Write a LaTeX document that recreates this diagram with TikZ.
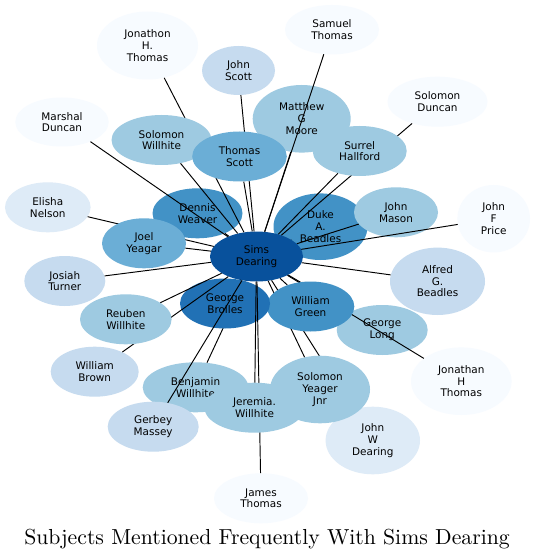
\documentclass[tikz,border=0pt]{standalone}
\usepackage{fontspec}
\usetikzlibrary{shapes.geometric}
\newfontfamily\nodefont{DejaVu Sans}
\font\titlefnt="[lmroman10-regular]" at 21.8pt
\definecolor{bA}{HTML}{F7FBFF}
\definecolor{bB}{HTML}{DEEBF7}
\definecolor{bC}{HTML}{C6DBEF}
\definecolor{bD}{HTML}{9ECAE1}
\definecolor{bE}{HTML}{6BAED6}
\definecolor{bF}{HTML}{4292C6}
\definecolor{bG}{HTML}{2171B5}
\definecolor{bH}{HTML}{08519C}
\pgfdeclarelayer{bg}
\pgfdeclarelayer{back}
\pgfsetlayers{bg,back,main}
\tikzset{
  nd/.style={ellipse, draw=none, inner sep=0pt, align=center,
    font=\nodefont\fontsize{10.5}{11.8}\selectfont, text=black},
  sz/.style 2 args={minimum width=#1bp, minimum height=#2bp},
  ed/.style={draw=black, line width=0.95bp},
}
\begin{document}
\begin{tikzpicture}[x=1bp,y=-1bp]
\begin{pgfonlayer}{bg}
\path[fill=white,use as bounding box] (0,0) rectangle (535,559);
\end{pgfonlayer}

\node[nd, fill=bH, sz={93}{50}] (sims) at (256.5,256.5) {Sims\\Dearing};
\begin{pgfonlayer}{back}
\node[nd, fill=bF, sz={94}{66.6}] (duke) at (320.5,226.7) {Duke\\A.\\Beadles};
\draw[ed] (sims) -- (duke);
\end{pgfonlayer}

\node[nd, fill=bF, sz={90}{50}] (dennis) at (197.5,213.3) {Dennis\\Weaver};
\draw[ed] (sims) -- (dennis);
\node[nd, fill=bA, sz={93.4}{49}] (marshal) at (62,122) {Marshal\\Duncan};
\draw[ed] (sims) -- (marshal);
\node[nd, fill=bB, sz={85.6}{50}] (elisha) at (47.8,207.3) {Elisha\\Nelson};
\draw[ed] (sims) -- (elisha);
\node[nd, fill=bE, sz={84}{50}] (joel) at (144,243.3) {Joel\\Yeagar};
\draw[ed] (sims) -- (joel);
\node[nd, fill=bA, sz={101}{68}] (jonathon) at (147.5,45.5) {Jonathon\\H.\\Thomas};
\draw[ed] (sims) -- (jonathon);
\node[nd, fill=bD, sz={100}{50}] (solw) at (161.5,140) {Solomon\\Willhite};
\draw[ed] (sims) -- (solw);
\node[nd, fill=bC, sz={73}{49}] (johnscott) at (238.5,70.5) {John\\Scott};
\draw[ed] (sims) -- (johnscott);
\node[nd, fill=bD, sz={98}{67.6}] (matthew) at (301.7,118.8) {Matthew\\G\\Moore};
\draw[ed] (sims) -- (matthew);
\node[nd, fill=bE, sz={94.6}{50}] (thomasscott) at (239.5,156.5) {Thomas\\Scott};
\draw[ed] (sims) -- (thomasscott);
\node[nd, fill=bA, sz={94}{49.4}] (samuel) at (332,29.7) {Samuel\\Thomas};
\draw[ed] (sims) -- (samuel);
\node[nd, fill=bA, sz={100}{50}] (solduncan) at (437.5,101.7) {Solomon\\Duncan};
\draw[ed] (sims) -- (solduncan);
\node[nd, fill=bD, sz={94}{50}] (surrel) at (359.7,151) {Surrel\\Hallford};
\draw[ed] (sims) -- (surrel);
\node[nd, fill=bD, sz={84}{50}] (johnmason) at (396,212.3) {John\\Mason};
\draw[ed] (sims) -- (johnmason);
\node[nd, fill=bA, sz={72.6}{67.4}] (jfprice) at (493.7,218.7) {John\\F\\Price};
\draw[ed] (sims) -- (jfprice);
\node[nd, fill=bC, sz={95}{67.4}] (alfred) at (437.5,281.3) {Alfred\\G.\\Beadles};
\draw[ed] (sims) -- (alfred);
\node[nd, fill=bD, sz={91}{50}] (georgelong) at (382.2,330) {George\\Long};
\draw[ed] (sims) -- (georgelong);
\node[nd, fill=bA, sz={100.6}{67.6}] (jht) at (461.3,381.2) {Jonathan\\H\\Thomas};
\draw[ed] (sims) -- (jht);
\node[nd, fill=bB, sz={94.4}{67.6}] (jwd) at (372.8,440.5) {John\\W\\Dearing};
\draw[ed] (sims) -- (jwd);
\node[nd, fill=bD, sz={100}{67.6}] (yeager) at (320,389.5) {Solomon\\Yeager\\Jnr};
\draw[ed] (sims) -- (yeager);
\node[nd, fill=bF, sz={87.6}{50}] (wg) at (310.5,306.5) {William\\Green};
\draw[ed] (sims) -- (wg);
\node[nd, fill=bD, sz={105.6}{50}] (benjamin) at (195.5,387.3) {Benjamin\\Willhite};
\draw[ed] (sims) -- (benjamin);
\node[nd, fill=bG, sz={90}{50}] (brolles) at (225,303.5) {George\\Brolles};
\draw[ed] (sims) -- (brolles);
\node[nd, fill=bC, sz={91}{50}] (gerbey) at (153.2,426.7) {Gerbey\\Massey};
\draw[ed] (sims) -- (gerbey);
\node[nd, fill=bC, sz={88}{50}] (wbrown) at (94.7,371.7) {William\\Brown};
\draw[ed] (sims) -- (wbrown);
\node[nd, fill=bD, sz={91.6}{50}] (reuben) at (125.8,319.3) {Reuben\\Willhite};
\draw[ed] (sims) -- (reuben);
\node[nd, fill=bC, sz={81}{50}] (josiah) at (64.8,281) {Josiah\\Turner};
\draw[ed] (sims) -- (josiah);
\node[nd, fill=bA, sz={94}{50}] (james) at (261,498.3) {James\\Thomas};
\draw[ed] (sims) -- (james);
\node[nd, fill=bD, sz={100}{50}] (jeremia) at (254.5,407.7) {Jeremia.\\Willhite};
\draw[ed] (sims) -- (jeremia);

\node[anchor=base, inner sep=0pt] (title) at (267,544) {\titlefnt Subjects Mentioned Frequently With Sims Dearing};
\end{tikzpicture}
\end{document}
